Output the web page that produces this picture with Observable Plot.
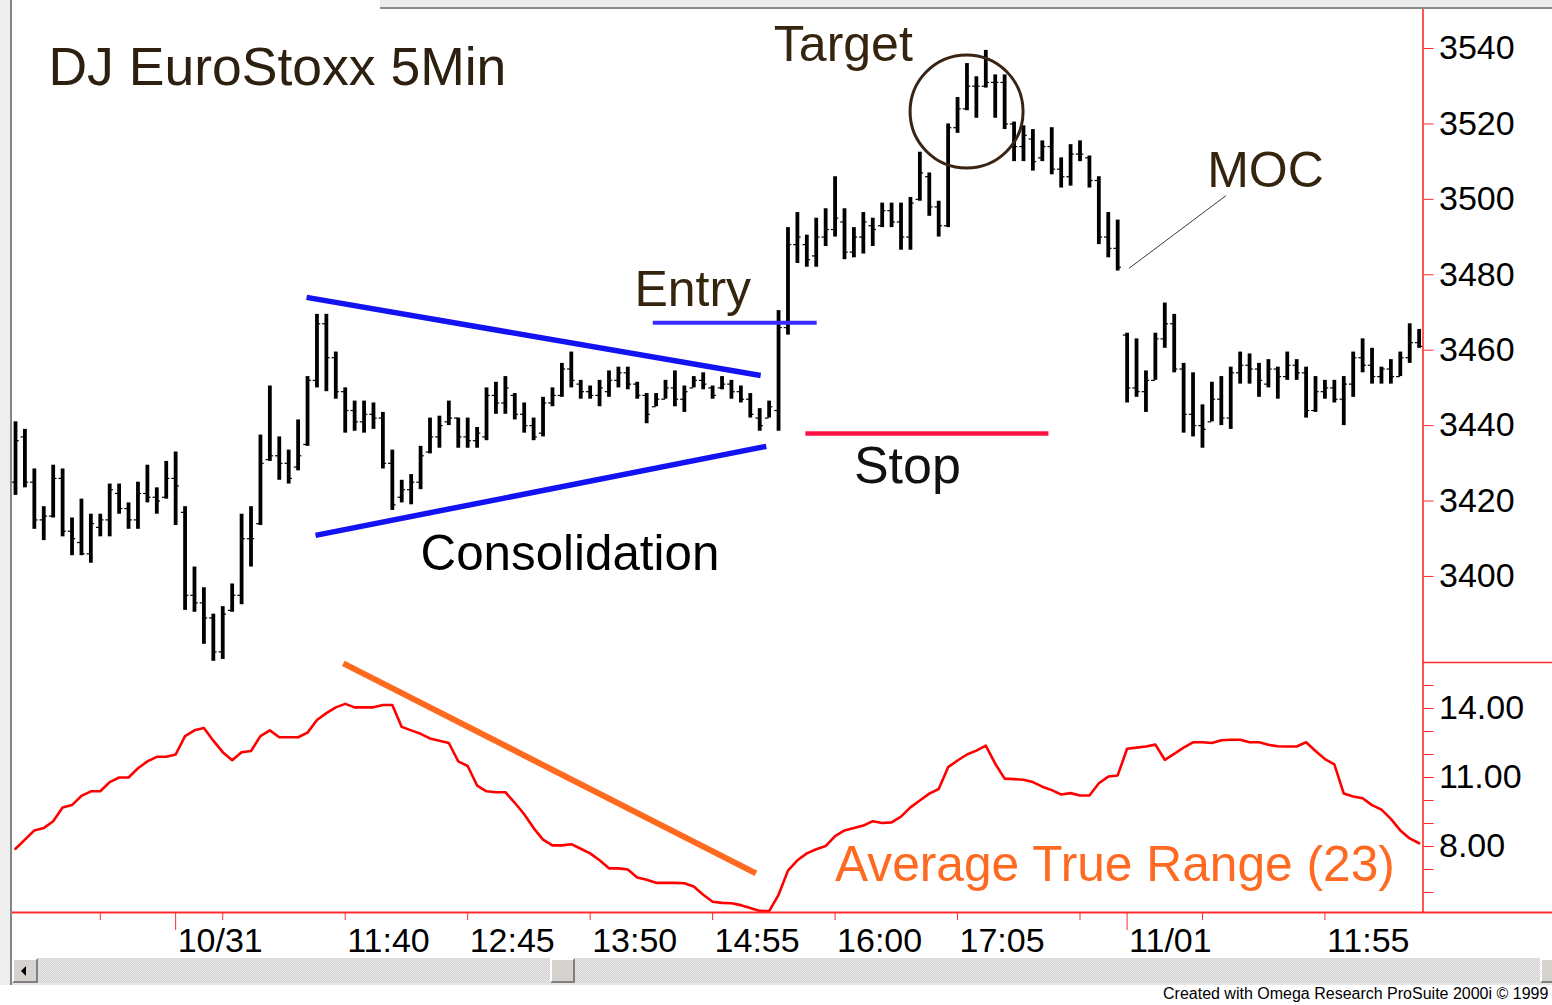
<!DOCTYPE html>
<html><head><meta charset="utf-8">
<script src="https://cdn.jsdelivr.net/npm/d3@7"></script>
<script src="https://cdn.jsdelivr.net/npm/@observablehq/plot@0.6"></script>
<style>
html,body{margin:0;padding:0;background:#fff;width:1552px;height:1005px;overflow:hidden;font-family:"Liberation Sans",Arial,sans-serif;}
#wrap{position:relative;width:1552px;height:1005px;}
#top,#bottom{position:absolute;left:0;}
#top{top:0;}#bottom{top:662px;}
#leftpad{position:absolute;left:0;top:0;width:12px;height:985px;background:#eeeeee;border-right:2px solid #858585;box-sizing:border-box;}
#topbar{position:absolute;left:380px;right:0;top:0;height:7px;background:#ececec;border-bottom:2px solid #8a8a8a;}
#scroll{position:absolute;left:12px;right:0;top:958px;height:25px;background:repeating-conic-gradient(#cfcfcf 0 25%,#ececec 0 50%) 0 0/2px 2px;border-bottom:2px solid #e6e6e6;}
.btn{position:absolute;top:0;height:25px;background:#d6d3ce;box-sizing:border-box;border-top:2px solid #fff;border-left:2px solid #fff;border-right:2px solid #808080;border-bottom:2px solid #808080;}
#lbtn{left:0;width:26px;}
#lbtn:after{content:"";position:absolute;left:7px;top:6px;border-right:5px solid #000;border-top:5px solid transparent;border-bottom:5px solid transparent;}
#thumb{left:538px;width:25px;}
#rbtn{left:1528px;width:26px;}
#credit{position:absolute;left:1163px;top:985px;font-size:16px;white-space:nowrap;color:#000;font-family:"Liberation Sans Narrow","Liberation Sans",Arial,sans-serif;}
</style></head><body>
<div id="wrap">
<div id="top"></div>
<div id="bottom"></div>
<div id="leftpad"></div>
<div id="topbar"></div>
<div id="scroll"><div class="btn" id="lbtn"></div><div class="btn" id="thumb"></div><div class="btn" id="rbtn"></div></div>
<div id="credit">Created with Omega Research ProSuite 2000i © 1999</div>
</div>
<script>
// ---- 5-minute bars (index 0..149) ----
const high = [3441,3439,3428.5,3418.5,3429.5,3428.5,3415.5,3420.5,3416.5,3416.5,
3424.5,3424.5,3419.5,3425,3429.5,3423.5,3430.5,3433,3418.5,3402.5,
3397,3390,3392,3398,3416.5,3418.5,3437.5,3450.5,3437,3433.5,
3441.5,3453,3469.5,3469.5,3459.5,3450,3446.5,3446.5,3446,3443.5,
3433.5,3425.5,3427,3434.5,3442,3442.5,3446.5,3442,3442,3439.5,
3450,3451.5,3453,3448.5,3446,3442,3447.5,3450,3456.5,3459.5,
3452,3450.5,3452,3454.5,3455.5,3455.5,3451.5,3448.5,3448.5,3452,
3454.5,3450.5,3453,3454,3450.5,3453,3452,3450.5,3448.5,3444.5,
3446.5,3470.5,3492.5,3496.5,3490.5,3495,3497.5,3506,3497.5,3492.5,
3496.5,3495,3499,3499,3499,3500.5,3512.5,3507,3499.5,3520,
3527,3536,3532.5,3539.5,3533,3533,3520.5,3519.5,3518.5,3515.5,
3519,3511,3514.5,3515.5,3511.5,3506,3496.5,3494.5,3464.5,3463,
3454.5,3464.5,3472.5,3469.5,3456.5,3454,3445.5,3451.5,3453,3455.5,
3459.5,3459,3456.5,3457.5,3455.5,3459.5,3457.5,3455.5,3453,3452,
3452,3453,3459.5,3463,3460.5,3455.5,3457.5,3459.5,3467,3465.5];
const low = [3421.5,3423.5,3412.5,3409.5,3415.5,3410.5,3405.5,3405.5,3403.5,3410.5,
3410.5,3416.5,3412.5,3412.5,3419.5,3416.5,3420.5,3413.5,3391,3390.5,
3382,3377.5,3378,3390.5,3392.5,3402.5,3413.5,3430.5,3425.5,3424.5,
3428,3434.5,3450,3449,3447,3438,3438.5,3438,3439,3428.5,
3417.5,3419.5,3419,3423,3432.5,3434,3440,3434,3434,3434,
3436,3443,3443,3441.5,3438,3436,3437,3445,3447.5,3450,
3447,3447,3445,3447.5,3450,3449.5,3447,3440.5,3445,3447,
3445,3443.5,3450,3449.5,3447,3449.5,3447,3446,3442,3438.5,
3442,3438.5,3464,3483,3482,3482,3487.5,3490,3484,3484.5,
3485.5,3487.5,3492.5,3492.5,3486.5,3486.5,3499.5,3495.5,3490,3492.5,
3517.5,3523.5,3521.5,3529.5,3521.5,3518.5,3510,3510,3507.5,3510,
3506.5,3503,3503.5,3510,3503,3488,3484.5,3481,3446,3447.5,
3443.5,3452,3460.5,3454,3438,3437,3434,3441,3440,3439,
3451,3451,3447.5,3450,3447,3452,3452,3442,3443.5,3447,
3446,3440,3447.5,3454,3451,3451,3451,3453,3456.5,3460.5];
const open = [3425,3437,3425,3415,3416,3426,3412,3409,3406,3413,
3415,3422,3418,3415,3422,3421,3421,3426,3417,3395,
3393,3389,3380,3391,3395,3410,3414,3431,3432,3430,
3429,3435,3452,3467,3458,3449,3444,3441,3443,3442,
3430,3421,3423,3425,3433,3437,3441,3442,3437,3436,
3437,3448,3446,3448,3443,3440,3438,3446,3448,3455,
3451,3449,3448,3449,3452,3454,3451,3448,3445,3447,
3450,3447,3450,3452,3450,3450,3451,3449,3447,3442,
3442,3444,3466,3488,3488,3485,3490,3492,3494,3486,
3490,3493,3493,3497,3494,3490,3500,3506,3498,3493,
3519,3524,3530,3530,3531,3531,3520,3514,3516,3511,
3514,3508,3506,3512,3511,3505,3490,3487,3464,3450,
3449,3452,3463,3467,3455,3443,3440,3441,3447,3442,
3454,3456,3455,3451,3455,3453,3456,3454,3444,3449,
3450,3447,3451,3458,3456,3453,3455,3453,3458,3462];
const close = [3436,3425,3415,3416,3426,3412,3410,3406,3414,3415,
3423,3418,3415,3422,3421,3420,3426,3424,3395,3393,
3389,3380,3390,3395,3410,3410,3430,3432,3430,3426,
3432,3452,3467,3458,3449,3444,3441,3443,3442,3430,
3419,3423,3425,3432,3437,3440,3442,3437,3436,3438,
3448,3446,3450,3443,3440,3437,3446,3448,3455,3452,
3449,3448,3450,3452,3454,3451,3448,3443,3447,3450,
3447,3449,3452,3451,3448,3451,3449,3447,3443,3440,
3445,3466,3488,3490,3484,3490,3492,3495,3486,3490,
3494,3492,3497,3494,3490,3499,3507,3498,3493,3519,
3524,3530,3530,3531,3531,3520,3514,3517,3510,3514,
3508,3506,3512,3512,3505,3490,3487,3482,3450,3449,
3452,3463,3467,3455,3443,3440,3439,3447,3442,3454,
3456,3455,3452,3455,3453,3456,3454,3444,3449,3450,
3447,3451,3458,3456,3453,3455,3453,3458,3462,3461];
// ---- Average True Range (23) ----
const atr = [7.9,8.3,8.7,8.8,9.1,9.7,9.8,10.2,10.4,10.4,
10.8,11.0,11.0,11.4,11.7,11.9,11.9,12.0,12.8,13.05,
13.15,12.6,12.1,11.75,12.1,12.15,12.8,13.05,12.75,12.75,
12.75,12.95,13.5,13.8,14.05,14.2,14.05,14.05,14.05,14.15,
14.15,13.2,13.05,12.9,12.7,12.6,12.5,11.7,11.5,10.65,
10.4,10.36,10.36,9.9,9.4,8.8,8.3,8.05,8.05,8.1,
7.9,7.7,7.4,7.05,7.05,7.0,6.65,6.55,6.42,6.42,
6.42,6.4,6.26,5.9,5.6,5.55,5.53,5.45,5.33,5.2,
5.19,5.9,6.95,7.4,7.7,7.88,8.02,8.45,8.7,8.8,
8.91,9.1,9.02,9.05,9.3,9.7,10.0,10.3,10.5,11.45,
11.74,12.0,12.17,12.39,11.6,10.95,10.93,10.9,10.8,10.6,
10.45,10.26,10.32,10.22,10.22,10.75,11.04,11.09,12.25,12.3,
12.35,12.43,11.77,12.03,12.3,12.53,12.53,12.5,12.62,12.64,
12.64,12.53,12.53,12.42,12.36,12.35,12.35,12.53,12.15,11.8,
11.57,10.3,10.17,10.1,9.8,9.6,9.2,8.7,8.35,8.14];

// ---- axes ----
const priceTicks = [3400,3420,3440,3460,3480,3500,3520,3540];
const atrTicks = [6,7,8,9,10,11,12,13,14,15];
const atrLabelTicks = [8,11,14];
const minorTimeTicks = [9,22,35,48,61,74,87,100,113,126,139];
const dayTicks = [17,118];
const timeLabelIdx = [17,35,48,61,74,87,100,118,139];
const timeLabels = ["10/31","11:40","12:45","13:50","14:55","16:00","17:05","11/01","11:55"];

// ---- annotations (bar index, price / ATR) ----
const triangleLines = [
  {x1:30.9, y1:3474.0, x2:79.1, y2:3453.3},
  {x1:31.85, y1:3410.9, x2:79.7, y2:3434.5}];
const entryLine = [{x1:67.7, x2:85.1, y:3467.3}];
const stopLine = [{x1:83.9, x2:109.7, y:3437.9}];
const mocLine = [{x1:118.2, y1:3481.7, x2:128.5, y2:3501.0}];
const targetCircle = [{x:100.96, y:3523.3}];
const atrTrend = [{x1:34.8, y1:15.96, x2:78.6, y2:6.83}];
const notes = [
  {label:"DJ EuroStoxx 5Min", x:3.5, y:3530.2, color:"#2d2010", size:53.5},
  {label:"Target", x:80.5, y:3536.6, color:"#35250f", size:50},
  {label:"Entry", x:65.7, y:3471.6, color:"#35250f", size:50},
  {label:"Stop", x:89.0, y:3424.9, color:"#111111", size:52},
  {label:"Consolidation", x:43.0, y:3401.6, color:"#000000", size:49.3},
  {label:"MOC", x:126.5, y:3503.4, color:"#35250f", size:50}];
const atrNote = [{label:"Average True Range (23)", x:87.0, y:6.52}];

const bars = high.map((h, i) => ({i, h, l: low[i], o: open[i], c: close[i]}));
const atrData = atr.map((v, i) => ({i, v}));
const xLabels = timeLabelIdx.map((i, k) => ({i, label: timeLabels[k]}));

const FONT = '"Liberation Sans", Arial, sans-serif';
const RED = "#ff2a2a";
const xDomain = [-0.3185, 149.41];
const xEdge = 163.2;

const topChart = Plot.plot({
  width: 1552, height: 662,
  marginLeft: 12, marginRight: 129.5, marginTop: 8, marginBottom: 0,
  x: {domain: xDomain, axis: null},
  y: {domain: [3377.18, 3550.61], axis: null},
  style: {fontFamily: FONT, background: "transparent", overflow: "visible"},
  marks: [
    Plot.ruleX(bars, {x: "i", y1: "l", y2: "h", stroke: "#000", strokeWidth: 3.8}),
    Plot.ruleY(bars, {y: "o", x1: d => d.i - 0.4, x2: "i", stroke: "#000", strokeWidth: 1.2}),
    Plot.ruleY(bars, {y: "c", x1: "i", x2: d => d.i + 0.4, stroke: "#000", strokeWidth: 1.2}),
    Plot.link(triangleLines, {x1: "x1", y1: "y1", x2: "x2", y2: "y2", stroke: "#1212f2", strokeWidth: 5.5}),
    Plot.ruleY(entryLine, {y: "y", x1: "x1", x2: "x2", stroke: "#3a2cff", strokeWidth: 4}),
    Plot.ruleY(stopLine, {y: "y", x1: "x1", x2: "x2", stroke: "#ff1040", strokeWidth: 4.5}),
    Plot.link(mocLine, {x1: "x1", y1: "y1", x2: "x2", y2: "y2", stroke: "#3a3a3a", strokeWidth: 1}),
    Plot.dot(targetCircle, {x: "x", y: "y", r: 56.5, stroke: "#3a2414", strokeWidth: 3, fill: "none"}),
    ...notes.map(n => Plot.text([n], {x: "x", y: "y", text: "label", fill: n.color, fontSize: n.size,
      textAnchor: "start", lineAnchor: "bottom", fontFamily: FONT})),
    Plot.ruleX([xDomain[1]], {stroke: RED, strokeWidth: 1.6}),
    Plot.axisY(priceTicks, {anchor: "right", tickSize: 10, tickPadding: 6, stroke: RED, fill: "#000",
      fontSize: 34, tickFormat: d => String(d)})
  ]
});
document.getElementById("top").appendChild(topChart);

const bottomChart = Plot.plot({
  width: 1552, height: 296,
  marginLeft: 12, marginRight: 129.5, marginTop: 0, marginBottom: 46,
  x: {domain: xDomain, axis: null},
  y: {domain: [5.13, 16.0], axis: null},
  style: {fontFamily: FONT, background: "transparent", overflow: "visible"},
  marks: [
    Plot.link(atrTrend, {x1: "x1", y1: "y1", x2: "x2", y2: "y2", stroke: "#ff6a1e", strokeWidth: 6}),
    Plot.line(atrData, {x: "i", y: "v", stroke: "#ff0000", strokeWidth: 2.6}),
    Plot.text(atrNote, {x: "x", y: "y", text: "label", fill: "#ff6a22", fontSize: 49.7,
      textAnchor: "start", lineAnchor: "bottom", fontFamily: FONT}),
    Plot.ruleX([xDomain[1]], {stroke: RED, strokeWidth: 1.6}),
    Plot.ruleY([16], {x1: xDomain[1], x2: xEdge, stroke: RED, strokeWidth: 1.6}),
    Plot.ruleY([5.13], {x1: xDomain[0], x2: xEdge, stroke: RED, strokeWidth: 2}),
    Plot.axisY(atrTicks, {anchor: "right", tickSize: 10, tickFormat: () => "", stroke: RED}),
    Plot.axisY(atrLabelTicks, {anchor: "right", tickSize: 10, tickPadding: 6, stroke: RED, fill: "#000",
      fontSize: 34, tickFormat: d3.format(".2f")}),
    Plot.axisX(minorTimeTicks, {anchor: "bottom", tickSize: 8, tickFormat: () => "", stroke: RED}),
    Plot.axisX(dayTicks, {anchor: "bottom", tickSize: 18, tickFormat: () => "", stroke: RED}),
    Plot.text(xLabels, {x: "i", text: "label", frameAnchor: "bottom", dy: 15, dx: 2,
      textAnchor: "start", lineAnchor: "top", fontSize: 34, fill: "#000", fontFamily: FONT})
  ]
});
document.getElementById("bottom").appendChild(bottomChart);
</script>
</body></html>
